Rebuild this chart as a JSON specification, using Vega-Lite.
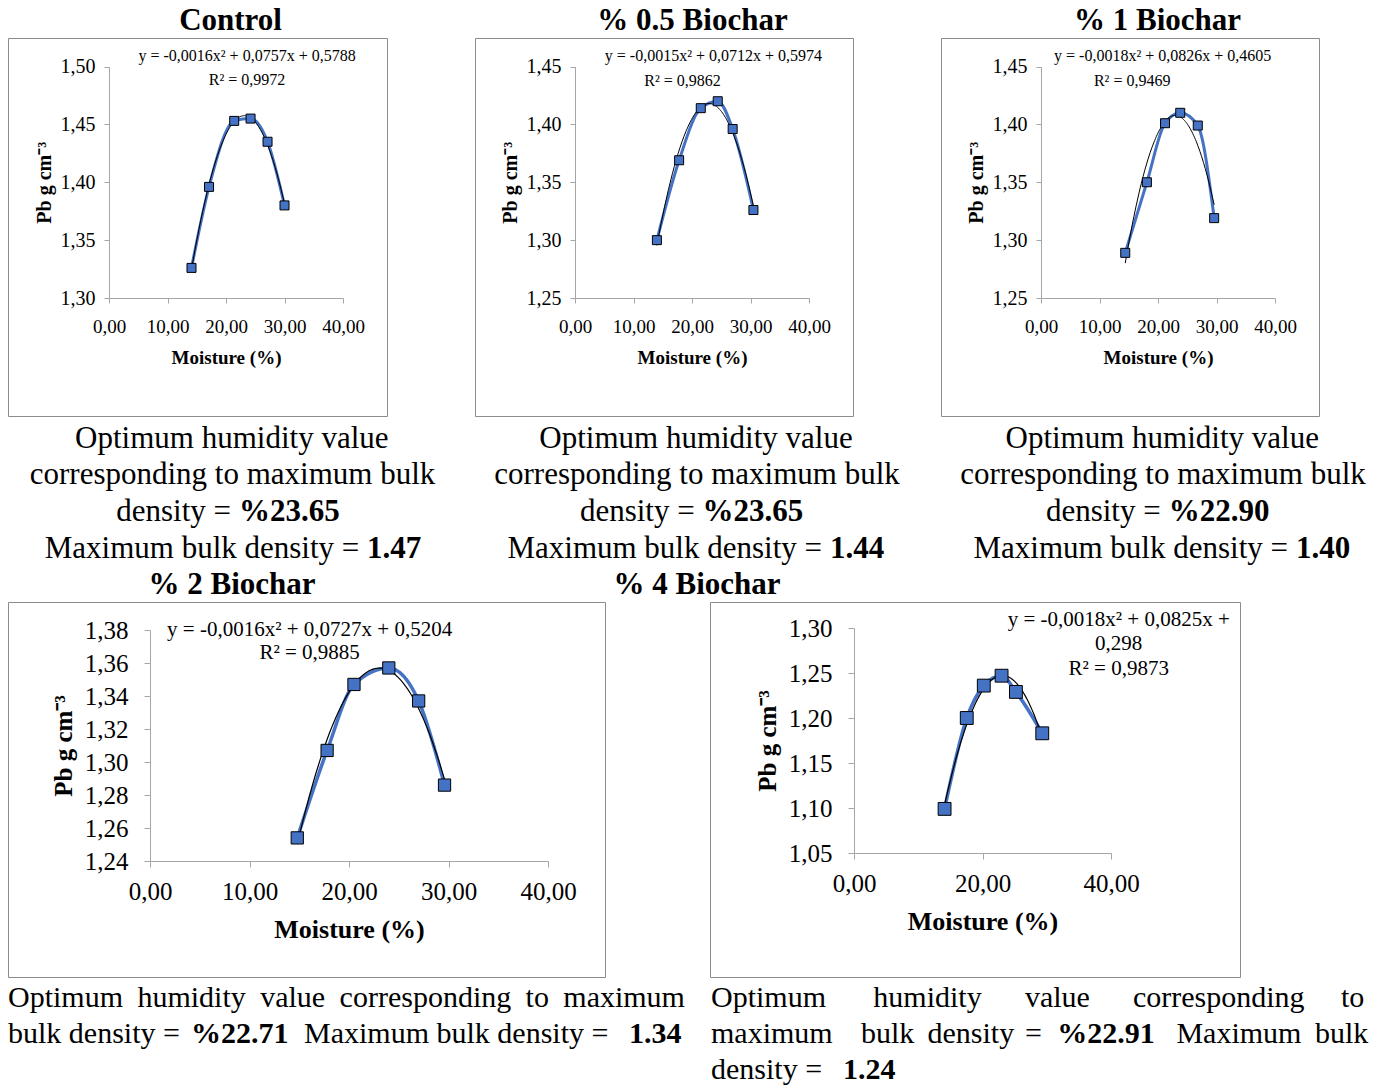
{
  "$schema": "https://vega.github.io/schema/vega-lite/v6.json",
  "background": "white",
  "padding": {"left": 7, "top": 4, "right": 0, "bottom": 0},
  "autosize": {"type": "pad"},
  "config": {
    "view": {"stroke": "#8c8c8c", "strokeWidth": 1},
    "font": "Liberation Serif",
    "axis": {"grid": false, "domainColor": "#a6a6a6", "tickColor": "#a6a6a6", "labelColor": "#000000", "titleColor": "#000000", "labelFont": "Liberation Serif", "titleFont": "Liberation Serif", "titleFontWeight": "bold", "tickSize": 5, "labelOverlap": false, "labelFlush": false},
    "title": {"font": "Liberation Serif", "fontWeight": "bold", "fontSize": 31, "color": "#000000", "anchor": "middle", "frame": "group"},
    "text": {"font": "Liberation Serif", "color": "#000000", "baseline": "middle", "fontSize": 31}
  },
  "datasets": {
    "pts": [
      {"panel": "Control", "moisture": 14.1, "pb": 1.326},
      {"panel": "Control", "moisture": 17.1, "pb": 1.396},
      {"panel": "Control", "moisture": 21.4, "pb": 1.453},
      {"panel": "Control", "moisture": 24.2, "pb": 1.455},
      {"panel": "Control", "moisture": 27.1, "pb": 1.435},
      {"panel": "Control", "moisture": 30.0, "pb": 1.380},
      {"panel": "% 0.5 Biochar", "moisture": 14.0, "pb": 1.300},
      {"panel": "% 0.5 Biochar", "moisture": 17.8, "pb": 1.369},
      {"panel": "% 0.5 Biochar", "moisture": 21.5, "pb": 1.414},
      {"panel": "% 0.5 Biochar", "moisture": 24.4, "pb": 1.420},
      {"panel": "% 0.5 Biochar", "moisture": 26.95, "pb": 1.396},
      {"panel": "% 0.5 Biochar", "moisture": 30.5, "pb": 1.326},
      {"panel": "% 1 Biochar", "moisture": 14.4, "pb": 1.289},
      {"panel": "% 1 Biochar", "moisture": 18.1, "pb": 1.350},
      {"panel": "% 1 Biochar", "moisture": 21.2, "pb": 1.401},
      {"panel": "% 1 Biochar", "moisture": 23.8, "pb": 1.410},
      {"panel": "% 1 Biochar", "moisture": 26.8, "pb": 1.399},
      {"panel": "% 1 Biochar", "moisture": 29.6, "pb": 1.319},
      {"panel": "% 2 Biochar", "moisture": 14.8, "pb": 1.254},
      {"panel": "% 2 Biochar", "moisture": 17.8, "pb": 1.307},
      {"panel": "% 2 Biochar", "moisture": 20.5, "pb": 1.347},
      {"panel": "% 2 Biochar", "moisture": 24.0, "pb": 1.357},
      {"panel": "% 2 Biochar", "moisture": 27.0, "pb": 1.337},
      {"panel": "% 2 Biochar", "moisture": 29.6, "pb": 1.286},
      {"panel": "% 4 Biochar", "moisture": 14.1, "pb": 1.099},
      {"panel": "% 4 Biochar", "moisture": 17.55, "pb": 1.200},
      {"panel": "% 4 Biochar", "moisture": 20.2, "pb": 1.236},
      {"panel": "% 4 Biochar", "moisture": 22.97, "pb": 1.247},
      {"panel": "% 4 Biochar", "moisture": 25.2, "pb": 1.229},
      {"panel": "% 4 Biochar", "moisture": 29.3, "pb": 1.183}
    ],
    "txt": [
      {"id": "e_c1", "panel": "Control", "text": "y = -0,0016x² + 0,0757x + 0,5788"},
      {"id": "e_c2", "panel": "Control", "text": "R² = 0,9972"},
      {"id": "e_a1", "panel": "% 0.5 Biochar", "text": "y = -0,0015x² + 0,0712x + 0,5974"},
      {"id": "e_a2", "panel": "% 0.5 Biochar", "text": "R² = 0,9862"},
      {"id": "e_b1", "panel": "% 1 Biochar", "text": "y = -0,0018x² + 0,0826x + 0,4605"},
      {"id": "e_b2", "panel": "% 1 Biochar", "text": "R² = 0,9469"},
      {"id": "e_d1", "panel": "% 2 Biochar", "text": "y = -0,0016x² + 0,0727x + 0,5204"},
      {"id": "e_d2", "panel": "% 2 Biochar", "text": "R² = 0,9885"},
      {"id": "e_e1", "panel": "% 4 Biochar", "text": "y = -0,0018x² + 0,0825x +"},
      {"id": "e_e2", "panel": "% 4 Biochar", "text": "0,298"},
      {"id": "e_e3", "panel": "% 4 Biochar", "text": "R² = 0,9873"},
      {"id": "k_c_1", "panel": "Control", "text": "Optimum humidity value"},
      {"id": "k_c_2", "panel": "Control", "text": "corresponding to maximum bulk"},
      {"id": "k_c_3n", "panel": "Control", "text": "density ="},
      {"id": "k_c_3b", "panel": "Control", "text": "%23.65"},
      {"id": "k_c_4n", "panel": "Control", "text": "Maximum bulk density ="},
      {"id": "k_c_4b", "panel": "Control", "text": "1.47"},
      {"id": "k_a_1", "panel": "% 0.5 Biochar", "text": "Optimum humidity value"},
      {"id": "k_a_2", "panel": "% 0.5 Biochar", "text": "corresponding to maximum bulk"},
      {"id": "k_a_3n", "panel": "% 0.5 Biochar", "text": "density ="},
      {"id": "k_a_3b", "panel": "% 0.5 Biochar", "text": "%23.65"},
      {"id": "k_a_4n", "panel": "% 0.5 Biochar", "text": "Maximum bulk density ="},
      {"id": "k_a_4b", "panel": "% 0.5 Biochar", "text": "1.44"},
      {"id": "k_b_1", "panel": "% 1 Biochar", "text": "Optimum humidity value"},
      {"id": "k_b_2", "panel": "% 1 Biochar", "text": "corresponding to maximum bulk"},
      {"id": "k_b_3n", "panel": "% 1 Biochar", "text": "density ="},
      {"id": "k_b_3b", "panel": "% 1 Biochar", "text": "%22.90"},
      {"id": "k_b_4n", "panel": "% 1 Biochar", "text": "Maximum bulk density ="},
      {"id": "k_b_4b", "panel": "% 1 Biochar", "text": "1.40"},
      {"id": "k_d_1a", "panel": "% 2 Biochar", "text": "Optimum"},
      {"id": "k_d_1b", "panel": "% 2 Biochar", "text": "humidity"},
      {"id": "k_d_1c", "panel": "% 2 Biochar", "text": "value"},
      {"id": "k_d_1d", "panel": "% 2 Biochar", "text": "corresponding"},
      {"id": "k_d_1e", "panel": "% 2 Biochar", "text": "to"},
      {"id": "k_d_1f", "panel": "% 2 Biochar", "text": "maximum"},
      {"id": "k_d_2a", "panel": "% 2 Biochar", "text": "bulk density ="},
      {"id": "k_d_2b", "panel": "% 2 Biochar", "text": "%22.71"},
      {"id": "k_d_2c", "panel": "% 2 Biochar", "text": "Maximum bulk density ="},
      {"id": "k_d_2d", "panel": "% 2 Biochar", "text": "1.34"},
      {"id": "k_e_1a", "panel": "% 4 Biochar", "text": "Optimum"},
      {"id": "k_e_1b", "panel": "% 4 Biochar", "text": "humidity"},
      {"id": "k_e_1c", "panel": "% 4 Biochar", "text": "value"},
      {"id": "k_e_1d", "panel": "% 4 Biochar", "text": "corresponding"},
      {"id": "k_e_1e", "panel": "% 4 Biochar", "text": "to"},
      {"id": "k_e_2a", "panel": "% 4 Biochar", "text": "maximum"},
      {"id": "k_e_2b", "panel": "% 4 Biochar", "text": "bulk"},
      {"id": "k_e_2c", "panel": "% 4 Biochar", "text": "density"},
      {"id": "k_e_2d", "panel": "% 4 Biochar", "text": "="},
      {"id": "k_e_2e", "panel": "% 4 Biochar", "text": "%22.91"},
      {"id": "k_e_2f", "panel": "% 4 Biochar", "text": "Maximum"},
      {"id": "k_e_2g", "panel": "% 4 Biochar", "text": "bulk"},
      {"id": "k_e_3a", "panel": "% 4 Biochar", "text": "density ="},
      {"id": "k_e_3b", "panel": "% 4 Biochar", "text": "1.24"}
    ]
  },
  "spacing": 3,
  "vconcat": [
    {
      "bounds": "flush",
      "spacing": 88,
      "hconcat": [
        {
          "width": 379, "height": 378,
          "title": {"text": "Control", "dx": 33, "offset": 1},
          "layer": [
            {"data": {"name": "pts"}, "transform": [{"filter": "datum.panel === 'Control'"}],
             "mark": {"type": "line", "interpolate": "monotone", "color": "#4472C4", "strokeWidth": 3},
             "encoding": {
               "x": {"field": "moisture", "type": "quantitative", "scale": {"domain": [0, 40], "range": [101, 335], "nice": false, "zero": false},
                 "axis": {"values": [0, 10, 20, 30, 40], "labelExpr": "replace(format(datum.value, '.2f'), '.', ',')", "offset": -118, "title": "Moisture (%)", "labelFontSize": 19, "titleFontSize": 19, "labelPadding": 14, "titlePadding": 12}},
               "y": {"field": "pb", "type": "quantitative", "scale": {"domain": [1.3, 1.5], "range": [260, 28.5], "nice": false, "zero": false},
                 "axis": {"values": [1.3, 1.35, 1.4, 1.45, 1.5], "labelExpr": "replace(format(datum.value, '.2f'), '.', ',')", "offset": -101, "title": "Pb g cm⁻³", "labelFontSize": 20, "titleFontSize": 20, "labelPadding": 9, "titlePadding": 6}}
             }},
            {"data": {"name": "pts"}, "transform": [{"filter": "datum.panel === 'Control'"}, {"regression": "pb", "on": "moisture", "method": "poly", "order": 2}],
             "mark": {"type": "line", "color": "#000000", "strokeWidth": 1},
             "encoding": {"x": {"field": "moisture", "type": "quantitative"}, "y": {"field": "pb", "type": "quantitative"}}},
            {"data": {"name": "pts"}, "transform": [{"filter": "datum.panel === 'Control'"}],
             "mark": {"type": "point", "shape": "square", "filled": true, "size": 81, "fill": "#4472C4", "stroke": "#000000", "strokeWidth": 1, "opacity": 1},
             "encoding": {"x": {"field": "moisture", "type": "quantitative"}, "y": {"field": "pb", "type": "quantitative"}}},
            {"data": {"name": "txt"}, "transform": [{"filter": "datum.id === 'e_c1'"}], "mark": {"type": "text", "fontSize": 16}, "encoding": {"x": {"datum": 23.6, "type": "quantitative"}, "y": {"datum": 1.509, "type": "quantitative"}, "text": {"field": "text"}}},
            {"data": {"name": "txt"}, "transform": [{"filter": "datum.id === 'e_c2'"}], "mark": {"type": "text", "fontSize": 16}, "encoding": {"x": {"datum": 23.6, "type": "quantitative"}, "y": {"datum": 1.488, "type": "quantitative"}, "text": {"field": "text"}}},
            {"data": {"name": "txt"}, "transform": [{"filter": "datum.id === 'k_c_1'"}], "mark": {"type": "text", "dx": 34.3}, "encoding": {"x": {"datum": 15.128, "type": "quantitative"}, "y": {"datum": 1.17844, "type": "quantitative"}, "text": {"field": "text"}}},
            {"data": {"name": "txt"}, "transform": [{"filter": "datum.id === 'k_c_2'"}], "mark": {"type": "text", "dx": 35}, "encoding": {"x": {"datum": 15.128, "type": "quantitative"}, "y": {"datum": 1.14682, "type": "quantitative"}, "text": {"field": "text"}}},
            {"data": {"name": "txt"}, "transform": [{"filter": "datum.id === 'k_c_3n'"}], "mark": {"type": "text", "align": "right", "dx": 33.5}, "encoding": {"x": {"datum": 15.128, "type": "quantitative"}, "y": {"datum": 1.11512, "type": "quantitative"}, "text": {"field": "text"}}},
            {"data": {"name": "txt"}, "transform": [{"filter": "datum.id === 'k_c_3b'"}], "mark": {"type": "text", "align": "left", "dx": 41.5, "fontWeight": "bold"}, "encoding": {"x": {"datum": 15.128, "type": "quantitative"}, "y": {"datum": 1.11512, "type": "quantitative"}, "text": {"field": "text"}}},
            {"data": {"name": "txt"}, "transform": [{"filter": "datum.id === 'k_c_4n'"}], "mark": {"type": "text", "align": "right", "dx": 161.8}, "encoding": {"x": {"datum": 15.128, "type": "quantitative"}, "y": {"datum": 1.08315, "type": "quantitative"}, "text": {"field": "text"}}},
            {"data": {"name": "txt"}, "transform": [{"filter": "datum.id === 'k_c_4b'"}], "mark": {"type": "text", "align": "left", "dx": 169.5, "fontWeight": "bold"}, "encoding": {"x": {"datum": 15.128, "type": "quantitative"}, "y": {"datum": 1.08315, "type": "quantitative"}, "text": {"field": "text"}}}
          ]
        },
        {
          "width": 378, "height": 378,
          "title": {"text": "% 0.5 Biochar", "dx": 28.5, "offset": 1},
          "layer": [
            {"data": {"name": "pts"}, "transform": [{"filter": "datum.panel === '% 0.5 Biochar'"}],
             "mark": {"type": "line", "interpolate": "monotone", "color": "#4472C4", "strokeWidth": 3},
             "encoding": {
               "x": {"field": "moisture", "type": "quantitative", "scale": {"domain": [0, 40], "range": [100, 334], "nice": false, "zero": false},
                 "axis": {"values": [0, 10, 20, 30, 40], "labelExpr": "replace(format(datum.value, '.2f'), '.', ',')", "offset": -118, "title": "Moisture (%)", "labelFontSize": 19, "titleFontSize": 19, "labelPadding": 14, "titlePadding": 12}},
               "y": {"field": "pb", "type": "quantitative", "scale": {"domain": [1.25, 1.45], "range": [260, 28.5], "nice": false, "zero": false},
                 "axis": {"values": [1.25, 1.3, 1.35, 1.4, 1.45], "labelExpr": "replace(format(datum.value, '.2f'), '.', ',')", "offset": -100, "title": "Pb g cm⁻³", "labelFontSize": 20, "titleFontSize": 20, "labelPadding": 9, "titlePadding": 6}}
             }},
            {"data": {"name": "pts"}, "transform": [{"filter": "datum.panel === '% 0.5 Biochar'"}, {"regression": "pb", "on": "moisture", "method": "poly", "order": 2}],
             "mark": {"type": "line", "color": "#000000", "strokeWidth": 1},
             "encoding": {"x": {"field": "moisture", "type": "quantitative"}, "y": {"field": "pb", "type": "quantitative"}}},
            {"data": {"name": "pts"}, "transform": [{"filter": "datum.panel === '% 0.5 Biochar'"}],
             "mark": {"type": "point", "shape": "square", "filled": true, "size": 81, "fill": "#4472C4", "stroke": "#000000", "strokeWidth": 1, "opacity": 1},
             "encoding": {"x": {"field": "moisture", "type": "quantitative"}, "y": {"field": "pb", "type": "quantitative"}}},
            {"data": {"name": "txt"}, "transform": [{"filter": "datum.id === 'e_a1'"}], "mark": {"type": "text", "fontSize": 16}, "encoding": {"x": {"datum": 23.66, "type": "quantitative"}, "y": {"datum": 1.4592, "type": "quantitative"}, "text": {"field": "text"}}},
            {"data": {"name": "txt"}, "transform": [{"filter": "datum.id === 'e_a2'"}], "mark": {"type": "text", "fontSize": 16}, "encoding": {"x": {"datum": 18.38, "type": "quantitative"}, "y": {"datum": 1.4379, "type": "quantitative"}, "text": {"field": "text"}}},
            {"data": {"name": "txt"}, "transform": [{"filter": "datum.id === 'k_a_1'"}], "mark": {"type": "text", "dx": 32}, "encoding": {"x": {"datum": 15.214, "type": "quantitative"}, "y": {"datum": 1.12844, "type": "quantitative"}, "text": {"field": "text"}}},
            {"data": {"name": "txt"}, "transform": [{"filter": "datum.id === 'k_a_2'"}], "mark": {"type": "text", "dx": 33}, "encoding": {"x": {"datum": 15.214, "type": "quantitative"}, "y": {"datum": 1.09682, "type": "quantitative"}, "text": {"field": "text"}}},
            {"data": {"name": "txt"}, "transform": [{"filter": "datum.id === 'k_a_3n'"}], "mark": {"type": "text", "align": "right", "dx": 30.7}, "encoding": {"x": {"datum": 15.214, "type": "quantitative"}, "y": {"datum": 1.06512, "type": "quantitative"}, "text": {"field": "text"}}},
            {"data": {"name": "txt"}, "transform": [{"filter": "datum.id === 'k_a_3b'"}], "mark": {"type": "text", "align": "left", "dx": 38.5, "fontWeight": "bold"}, "encoding": {"x": {"datum": 15.214, "type": "quantitative"}, "y": {"datum": 1.06512, "type": "quantitative"}, "text": {"field": "text"}}},
            {"data": {"name": "txt"}, "transform": [{"filter": "datum.id === 'k_a_4n'"}], "mark": {"type": "text", "align": "right", "dx": 158}, "encoding": {"x": {"datum": 15.214, "type": "quantitative"}, "y": {"datum": 1.03315, "type": "quantitative"}, "text": {"field": "text"}}},
            {"data": {"name": "txt"}, "transform": [{"filter": "datum.id === 'k_a_4b'"}], "mark": {"type": "text", "align": "left", "dx": 166, "fontWeight": "bold"}, "encoding": {"x": {"datum": 15.214, "type": "quantitative"}, "y": {"datum": 1.03315, "type": "quantitative"}, "text": {"field": "text"}}}
          ]
        },
        {
          "width": 378, "height": 378,
          "title": {"text": "% 1 Biochar", "dx": 27.5, "offset": 1},
          "layer": [
            {"data": {"name": "pts"}, "transform": [{"filter": "datum.panel === '% 1 Biochar'"}],
             "mark": {"type": "line", "interpolate": "monotone", "color": "#4472C4", "strokeWidth": 3},
             "encoding": {
               "x": {"field": "moisture", "type": "quantitative", "scale": {"domain": [0, 40], "range": [100, 334], "nice": false, "zero": false},
                 "axis": {"values": [0, 10, 20, 30, 40], "labelExpr": "replace(format(datum.value, '.2f'), '.', ',')", "offset": -118, "title": "Moisture (%)", "labelFontSize": 19, "titleFontSize": 19, "labelPadding": 14, "titlePadding": 12}},
               "y": {"field": "pb", "type": "quantitative", "scale": {"domain": [1.25, 1.45], "range": [260, 28.5], "nice": false, "zero": false},
                 "axis": {"values": [1.25, 1.3, 1.35, 1.4, 1.45], "labelExpr": "replace(format(datum.value, '.2f'), '.', ',')", "offset": -100, "title": "Pb g cm⁻³", "labelFontSize": 20, "titleFontSize": 20, "labelPadding": 9, "titlePadding": 6}}
             }},
            {"data": {"name": "pts"}, "transform": [{"filter": "datum.panel === '% 1 Biochar'"}, {"regression": "pb", "on": "moisture", "method": "poly", "order": 2}],
             "mark": {"type": "line", "color": "#000000", "strokeWidth": 1},
             "encoding": {"x": {"field": "moisture", "type": "quantitative"}, "y": {"field": "pb", "type": "quantitative"}}},
            {"data": {"name": "pts"}, "transform": [{"filter": "datum.panel === '% 1 Biochar'"}],
             "mark": {"type": "point", "shape": "square", "filled": true, "size": 81, "fill": "#4472C4", "stroke": "#000000", "strokeWidth": 1, "opacity": 1},
             "encoding": {"x": {"field": "moisture", "type": "quantitative"}, "y": {"field": "pb", "type": "quantitative"}}},
            {"data": {"name": "txt"}, "transform": [{"filter": "datum.id === 'e_b1'"}], "mark": {"type": "text", "fontSize": 16}, "encoding": {"x": {"datum": 20.8, "type": "quantitative"}, "y": {"datum": 1.4592, "type": "quantitative"}, "text": {"field": "text"}}},
            {"data": {"name": "txt"}, "transform": [{"filter": "datum.id === 'e_b2'"}], "mark": {"type": "text", "fontSize": 16}, "encoding": {"x": {"datum": 15.59, "type": "quantitative"}, "y": {"datum": 1.4379, "type": "quantitative"}, "text": {"field": "text"}}},
            {"data": {"name": "txt"}, "transform": [{"filter": "datum.id === 'k_b_1'"}], "mark": {"type": "text", "dx": 32.2}, "encoding": {"x": {"datum": 15.214, "type": "quantitative"}, "y": {"datum": 1.12844, "type": "quantitative"}, "text": {"field": "text"}}},
            {"data": {"name": "txt"}, "transform": [{"filter": "datum.id === 'k_b_2'"}], "mark": {"type": "text", "dx": 33}, "encoding": {"x": {"datum": 15.214, "type": "quantitative"}, "y": {"datum": 1.09682, "type": "quantitative"}, "text": {"field": "text"}}},
            {"data": {"name": "txt"}, "transform": [{"filter": "datum.id === 'k_b_3n'"}], "mark": {"type": "text", "align": "right", "dx": 30.7}, "encoding": {"x": {"datum": 15.214, "type": "quantitative"}, "y": {"datum": 1.06512, "type": "quantitative"}, "text": {"field": "text"}}},
            {"data": {"name": "txt"}, "transform": [{"filter": "datum.id === 'k_b_3b'"}], "mark": {"type": "text", "align": "left", "dx": 38.7, "fontWeight": "bold"}, "encoding": {"x": {"datum": 15.214, "type": "quantitative"}, "y": {"datum": 1.06512, "type": "quantitative"}, "text": {"field": "text"}}},
            {"data": {"name": "txt"}, "transform": [{"filter": "datum.id === 'k_b_4n'"}], "mark": {"type": "text", "align": "right", "dx": 158}, "encoding": {"x": {"datum": 15.214, "type": "quantitative"}, "y": {"datum": 1.03315, "type": "quantitative"}, "text": {"field": "text"}}},
            {"data": {"name": "txt"}, "transform": [{"filter": "datum.id === 'k_b_4b'"}], "mark": {"type": "text", "align": "left", "dx": 166, "fontWeight": "bold"}, "encoding": {"x": {"datum": 15.214, "type": "quantitative"}, "y": {"datum": 1.03315, "type": "quantitative"}, "text": {"field": "text"}}}
          ]
        }
      ]
    },
    {
      "bounds": "flush",
      "spacing": 105,
      "hconcat": [
        {
          "width": 597, "height": 375,
          "title": {"text": "% 2 Biochar", "dx": -74.5, "offset": 1},
          "layer": [
            {"data": {"name": "pts"}, "transform": [{"filter": "datum.panel === '% 2 Biochar'"}],
             "mark": {"type": "line", "interpolate": "monotone", "color": "#4472C4", "strokeWidth": 3.5},
             "encoding": {
               "x": {"field": "moisture", "type": "quantitative", "scale": {"domain": [0, 40], "range": [142, 540], "nice": false, "zero": false},
                 "axis": {"values": [0, 10, 20, 30, 40], "labelExpr": "replace(format(datum.value, '.2f'), '.', ',')", "offset": -116, "title": "Moisture (%)", "labelFontSize": 25, "titleFontSize": 26, "labelPadding": 12, "tickSize": 6, "titlePadding": 12}},
               "y": {"field": "pb", "type": "quantitative", "scale": {"domain": [1.24, 1.38], "range": [259, 28], "nice": false, "zero": false},
                 "axis": {"values": [1.24, 1.26, 1.28, 1.3, 1.32, 1.34, 1.36, 1.38], "labelExpr": "replace(format(datum.value, '.2f'), '.', ',')", "offset": -142, "title": "Pb g cm⁻³", "labelFontSize": 25, "titleFontSize": 25, "labelPadding": 16, "tickSize": 6, "titlePadding": 8}}
             }},
            {"data": {"name": "pts"}, "transform": [{"filter": "datum.panel === '% 2 Biochar'"}, {"regression": "pb", "on": "moisture", "method": "poly", "order": 2}],
             "mark": {"type": "line", "color": "#000000", "strokeWidth": 1.2},
             "encoding": {"x": {"field": "moisture", "type": "quantitative"}, "y": {"field": "pb", "type": "quantitative"}}},
            {"data": {"name": "pts"}, "transform": [{"filter": "datum.panel === '% 2 Biochar'"}],
             "mark": {"type": "point", "shape": "square", "filled": true, "size": 150, "fill": "#4472C4", "stroke": "#000000", "strokeWidth": 1, "opacity": 1},
             "encoding": {"x": {"field": "moisture", "type": "quantitative"}, "y": {"field": "pb", "type": "quantitative"}}},
            {"data": {"name": "txt"}, "transform": [{"filter": "datum.id === 'e_d1'"}], "mark": {"type": "text", "fontSize": 21}, "encoding": {"x": {"datum": 16.04, "type": "quantitative"}, "y": {"datum": 1.38, "type": "quantitative"}, "text": {"field": "text"}}},
            {"data": {"name": "txt"}, "transform": [{"filter": "datum.id === 'e_d2'"}], "mark": {"type": "text", "fontSize": 21}, "encoding": {"x": {"datum": 16.04, "type": "quantitative"}, "y": {"datum": 1.366, "type": "quantitative"}, "text": {"field": "text"}}},
            {"data": {"name": "txt"}, "transform": [{"filter": "datum.id === 'k_d_1a'"}], "mark": {"type": "text", "align": "left", "fontSize": 30, "dx": -298.5}, "encoding": {"x": {"datum": 15.729, "type": "quantitative"}, "y": {"datum": 1.15697, "type": "quantitative"}, "text": {"field": "text"}}},
            {"data": {"name": "txt"}, "transform": [{"filter": "datum.id === 'k_d_1b'"}], "mark": {"type": "text", "align": "left", "fontSize": 30, "dx": -169.1}, "encoding": {"x": {"datum": 15.729, "type": "quantitative"}, "y": {"datum": 1.15697, "type": "quantitative"}, "text": {"field": "text"}}},
            {"data": {"name": "txt"}, "transform": [{"filter": "datum.id === 'k_d_1c'"}], "mark": {"type": "text", "align": "left", "fontSize": 30, "dx": -46.3}, "encoding": {"x": {"datum": 15.729, "type": "quantitative"}, "y": {"datum": 1.15697, "type": "quantitative"}, "text": {"field": "text"}}},
            {"data": {"name": "txt"}, "transform": [{"filter": "datum.id === 'k_d_1d'"}], "mark": {"type": "text", "align": "left", "fontSize": 30, "dx": 33.1}, "encoding": {"x": {"datum": 15.729, "type": "quantitative"}, "y": {"datum": 1.15697, "type": "quantitative"}, "text": {"field": "text"}}},
            {"data": {"name": "txt"}, "transform": [{"filter": "datum.id === 'k_d_1e'"}], "mark": {"type": "text", "align": "left", "fontSize": 30, "dx": 219.1}, "encoding": {"x": {"datum": 15.729, "type": "quantitative"}, "y": {"datum": 1.15697, "type": "quantitative"}, "text": {"field": "text"}}},
            {"data": {"name": "txt"}, "transform": [{"filter": "datum.id === 'k_d_1f'"}], "mark": {"type": "text", "align": "left", "fontSize": 30, "dx": 256.8}, "encoding": {"x": {"datum": 15.729, "type": "quantitative"}, "y": {"datum": 1.15697, "type": "quantitative"}, "text": {"field": "text"}}},
            {"data": {"name": "txt"}, "transform": [{"filter": "datum.id === 'k_d_2a'"}], "mark": {"type": "text", "align": "left", "fontSize": 30, "dx": -298.5}, "encoding": {"x": {"datum": 15.729, "type": "quantitative"}, "y": {"datum": 1.13515, "type": "quantitative"}, "text": {"field": "text"}}},
            {"data": {"name": "txt"}, "transform": [{"filter": "datum.id === 'k_d_2b'"}], "mark": {"type": "text", "align": "left", "fontSize": 30, "dx": -115.5, "fontWeight": "bold"}, "encoding": {"x": {"datum": 15.729, "type": "quantitative"}, "y": {"datum": 1.13515, "type": "quantitative"}, "text": {"field": "text"}}},
            {"data": {"name": "txt"}, "transform": [{"filter": "datum.id === 'k_d_2c'"}], "mark": {"type": "text", "align": "left", "fontSize": 30, "dx": -2.5}, "encoding": {"x": {"datum": 15.729, "type": "quantitative"}, "y": {"datum": 1.13515, "type": "quantitative"}, "text": {"field": "text"}}},
            {"data": {"name": "txt"}, "transform": [{"filter": "datum.id === 'k_d_2d'"}], "mark": {"type": "text", "align": "left", "fontSize": 30, "dx": 322.5, "fontWeight": "bold"}, "encoding": {"x": {"datum": 15.729, "type": "quantitative"}, "y": {"datum": 1.13515, "type": "quantitative"}, "text": {"field": "text"}}}
          ]
        },
        {
          "width": 530, "height": 375,
          "title": {"text": "% 4 Biochar", "dx": -278, "offset": 1},
          "layer": [
            {"data": {"name": "pts"}, "transform": [{"filter": "datum.panel === '% 4 Biochar'"}],
             "mark": {"type": "line", "interpolate": "monotone", "color": "#4472C4", "strokeWidth": 3.5},
             "encoding": {
               "x": {"field": "moisture", "type": "quantitative", "scale": {"domain": [0, 40], "range": [144, 401], "nice": false, "zero": false},
                 "axis": {"values": [0, 20, 40], "labelExpr": "replace(format(datum.value, '.2f'), '.', ',')", "offset": -124, "title": "Moisture (%)", "labelFontSize": 25, "titleFontSize": 26, "labelPadding": 12, "tickSize": 6, "titlePadding": 12}},
               "y": {"field": "pb", "type": "quantitative", "scale": {"domain": [1.05, 1.3], "range": [251, 26], "nice": false, "zero": false},
                 "axis": {"values": [1.05, 1.1, 1.15, 1.2, 1.25, 1.3], "labelExpr": "replace(format(datum.value, '.2f'), '.', ',')", "offset": -144, "title": "Pb g cm⁻³", "labelFontSize": 25, "titleFontSize": 25, "labelPadding": 16, "tickSize": 6, "titlePadding": 8}}
             }},
            {"data": {"name": "pts"}, "transform": [{"filter": "datum.panel === '% 4 Biochar'"}, {"regression": "pb", "on": "moisture", "method": "poly", "order": 2}],
             "mark": {"type": "line", "color": "#000000", "strokeWidth": 1.2},
             "encoding": {"x": {"field": "moisture", "type": "quantitative"}, "y": {"field": "pb", "type": "quantitative"}}},
            {"data": {"name": "pts"}, "transform": [{"filter": "datum.panel === '% 4 Biochar'"}],
             "mark": {"type": "point", "shape": "square", "filled": true, "size": 165, "fill": "#4472C4", "stroke": "#000000", "strokeWidth": 1, "opacity": 1},
             "encoding": {"x": {"field": "moisture", "type": "quantitative"}, "y": {"field": "pb", "type": "quantitative"}}},
            {"data": {"name": "txt"}, "transform": [{"filter": "datum.id === 'e_e1'"}], "mark": {"type": "text", "fontSize": 21}, "encoding": {"x": {"datum": 41.2, "type": "quantitative"}, "y": {"datum": 1.309, "type": "quantitative"}, "text": {"field": "text"}}},
            {"data": {"name": "txt"}, "transform": [{"filter": "datum.id === 'e_e2'"}], "mark": {"type": "text", "fontSize": 21}, "encoding": {"x": {"datum": 41.2, "type": "quantitative"}, "y": {"datum": 1.282, "type": "quantitative"}, "text": {"field": "text"}}},
            {"data": {"name": "txt"}, "transform": [{"filter": "datum.id === 'e_e3'"}], "mark": {"type": "text", "fontSize": 21}, "encoding": {"x": {"datum": 41.2, "type": "quantitative"}, "y": {"datum": 1.255, "type": "quantitative"}, "text": {"field": "text"}}},
            {"data": {"name": "txt"}, "transform": [{"filter": "datum.id === 'k_e_1a'"}], "mark": {"type": "text", "align": "left", "fontSize": 30, "dx": -264}, "encoding": {"x": {"datum": 18.833, "type": "quantitative"}, "y": {"datum": 0.88889, "type": "quantitative"}, "text": {"field": "text"}}},
            {"data": {"name": "txt"}, "transform": [{"filter": "datum.id === 'k_e_1b'"}], "mark": {"type": "text", "align": "left", "fontSize": 30, "dx": -101.7}, "encoding": {"x": {"datum": 18.833, "type": "quantitative"}, "y": {"datum": 0.88889, "type": "quantitative"}, "text": {"field": "text"}}},
            {"data": {"name": "txt"}, "transform": [{"filter": "datum.id === 'k_e_1c'"}], "mark": {"type": "text", "align": "left", "fontSize": 30, "dx": 49.9}, "encoding": {"x": {"datum": 18.833, "type": "quantitative"}, "y": {"datum": 0.88889, "type": "quantitative"}, "text": {"field": "text"}}},
            {"data": {"name": "txt"}, "transform": [{"filter": "datum.id === 'k_e_1d'"}], "mark": {"type": "text", "align": "left", "fontSize": 30, "dx": 158}, "encoding": {"x": {"datum": 18.833, "type": "quantitative"}, "y": {"datum": 0.88889, "type": "quantitative"}, "text": {"field": "text"}}},
            {"data": {"name": "txt"}, "transform": [{"filter": "datum.id === 'k_e_1e'"}], "mark": {"type": "text", "align": "left", "fontSize": 30, "dx": 365.9}, "encoding": {"x": {"datum": 18.833, "type": "quantitative"}, "y": {"datum": 0.88889, "type": "quantitative"}, "text": {"field": "text"}}},
            {"data": {"name": "txt"}, "transform": [{"filter": "datum.id === 'k_e_2a'"}], "mark": {"type": "text", "align": "left", "fontSize": 30, "dx": -264}, "encoding": {"x": {"datum": 18.833, "type": "quantitative"}, "y": {"datum": 0.84889, "type": "quantitative"}, "text": {"field": "text"}}},
            {"data": {"name": "txt"}, "transform": [{"filter": "datum.id === 'k_e_2b'"}], "mark": {"type": "text", "align": "left", "fontSize": 30, "dx": -114}, "encoding": {"x": {"datum": 18.833, "type": "quantitative"}, "y": {"datum": 0.84889, "type": "quantitative"}, "text": {"field": "text"}}},
            {"data": {"name": "txt"}, "transform": [{"filter": "datum.id === 'k_e_2c'"}], "mark": {"type": "text", "align": "left", "fontSize": 30, "dx": -47.5}, "encoding": {"x": {"datum": 18.833, "type": "quantitative"}, "y": {"datum": 0.84889, "type": "quantitative"}, "text": {"field": "text"}}},
            {"data": {"name": "txt"}, "transform": [{"filter": "datum.id === 'k_e_2d'"}], "mark": {"type": "text", "align": "left", "fontSize": 30, "dx": 50}, "encoding": {"x": {"datum": 18.833, "type": "quantitative"}, "y": {"datum": 0.84889, "type": "quantitative"}, "text": {"field": "text"}}},
            {"data": {"name": "txt"}, "transform": [{"filter": "datum.id === 'k_e_2e'"}], "mark": {"type": "text", "align": "left", "fontSize": 30, "dx": 82.3, "fontWeight": "bold"}, "encoding": {"x": {"datum": 18.833, "type": "quantitative"}, "y": {"datum": 0.84889, "type": "quantitative"}, "text": {"field": "text"}}},
            {"data": {"name": "txt"}, "transform": [{"filter": "datum.id === 'k_e_2f'"}], "mark": {"type": "text", "align": "left", "fontSize": 30, "dx": 201.4}, "encoding": {"x": {"datum": 18.833, "type": "quantitative"}, "y": {"datum": 0.84889, "type": "quantitative"}, "text": {"field": "text"}}},
            {"data": {"name": "txt"}, "transform": [{"filter": "datum.id === 'k_e_2g'"}], "mark": {"type": "text", "align": "left", "fontSize": 30, "dx": 339.9}, "encoding": {"x": {"datum": 18.833, "type": "quantitative"}, "y": {"datum": 0.84889, "type": "quantitative"}, "text": {"field": "text"}}},
            {"data": {"name": "txt"}, "transform": [{"filter": "datum.id === 'k_e_3a'"}], "mark": {"type": "text", "align": "left", "fontSize": 30, "dx": -264}, "encoding": {"x": {"datum": 18.833, "type": "quantitative"}, "y": {"datum": 0.80889, "type": "quantitative"}, "text": {"field": "text"}}},
            {"data": {"name": "txt"}, "transform": [{"filter": "datum.id === 'k_e_3b'"}], "mark": {"type": "text", "align": "left", "fontSize": 30, "dx": -132, "fontWeight": "bold"}, "encoding": {"x": {"datum": 18.833, "type": "quantitative"}, "y": {"datum": 0.80889, "type": "quantitative"}, "text": {"field": "text"}}}
          ]
        }
      ]
    }
  ]
}
